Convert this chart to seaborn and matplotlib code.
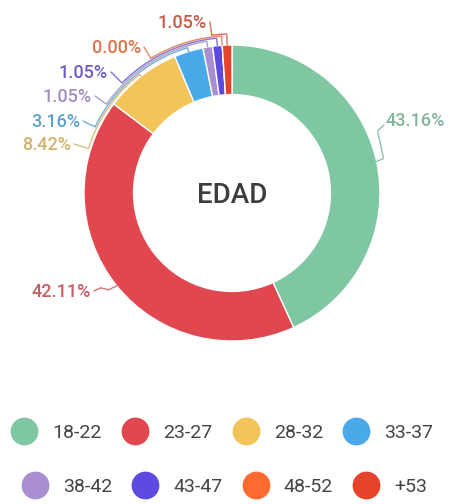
import numpy as np
import matplotlib.pyplot as plt
import seaborn as sns
from matplotlib.colors import to_rgb
from matplotlib.lines import Line2D

# age groups and their share (%)
ages = ['18-22', '23-27', '28-32', '33-37', '38-42', '43-47', '48-52', '+53']
percents = [43.16, 42.11, 8.42, 3.16, 1.05, 1.05, 0.00, 1.05]
colors = ['#7fc6a2', '#e0474f', '#f2c45a', '#4aa9e9',
          '#a98fd2', '#5d4be0', '#ff6a2f', '#e6432a']

sns.set_theme(style='white')
plt.rcParams['font.family'] = ['Roboto', 'DejaVu Sans']
palette = sns.color_palette(colors)

W, H = 457, 504
CX, CY, R = 232, 193, 148


def to_data(px, py):
    # pixel position -> data coords (pie radius = 1)
    return (px - CX) / R, (CY - py) / R


def muted(c, k=0.3):
    # slice colour pulled a bit toward grey, like the label text
    return tuple((1 - k) * a + k * 0.55 for a in to_rgb(c))


fig = plt.figure(figsize=(W / 100, H / 100), dpi=100)
ax = fig.add_axes([0, 0, 1, 1])

wedges, _ = ax.pie(percents, colors=palette, startangle=90, counterclock=False,
                   radius=1, wedgeprops=dict(width=0.335, edgecolor='white', linewidth=1))
ax.set_xlim(-CX / R, (W - CX) / R)
ax.set_ylim((CY - H) / R, CY / R)
ax.axis('off')

# mid angle of each slice, wrapped to (-pi, pi]
cum = np.cumsum([0] + percents) / 100
mids = np.deg2rad(90 - 360 * (cum[:-1] + cum[1:]) / 2)
mids = np.arctan2(np.sin(mids), np.cos(mids))

# label layout: (x px, baseline px, ha)
label_pos = [(386, 126, 'left'), (91, 297, 'right'), (71, 150, 'right'),
             (80, 127, 'right'), (92, 102, 'right'), (108, 78, 'right'),
             (141, 53, 'right'), (207, 28, 'right')]
arc_r = {2: 1.015, 3: 1.027, 4: 1.039, 5: 1.051, 6: 1.063, 7: 1.075}

for i, (p, (lx, ly, ha)) in enumerate(zip(percents, label_pos)):
    col = muted(colors[i])
    tx, ty = to_data(lx, ly)
    ax.text(tx, ty, f'{p:.2f}%', fontsize=13, color=col, fontweight=500,
            ha=ha, va='baseline')
    th = mids[i]
    ex, ey = np.cos(th), np.sin(th)
    if i == 0:
        epx, epy = CX + ex * R, CY - ey * R
        pts = [(epx, epy), (epx + 7, epy - 3), (epx + 1, 131), (lx - 2, ly - 1)]
        xs, ys = zip(*[to_data(a, b) for a, b in pts])
    elif i == 1:
        epx, epy = CX + ex * R, CY - ey * R
        pts = [(epx, epy), (epx - 8, epy + 4), (epx - 16, epy + 2), (lx + 3, ly - 6)]
        xs, ys = zip(*[to_data(a, b) for a, b in pts])
    else:
        axx, ayy = to_data(lx + 3, ly - 6)
        phi = np.arctan2(ayy, axx)
        r = arc_r[i]
        arc = np.linspace(phi, th, 40)
        xs = [axx] + list(r * np.cos(arc)) + [np.cos(th)]
        ys = [ayy] + list(r * np.sin(arc)) + [np.sin(th)]
    ax.plot(xs, ys, color=col, lw=1, alpha=0.85)

# centre title
ex_, ey_ = to_data(CX, 203)
ax.text(ex_, ey_, 'EDAD', fontsize=20, color='#3d3d3d', fontweight=500,
        ha='center', va='baseline')

# legend in two centred rows
handles = [Line2D([], [], marker='o', ls='', markersize=19,
                  markerfacecolor=c, markeredgecolor=c) for c in colors]
kw = dict(loc='center', bbox_transform=fig.transFigure, ncol=4, frameon=False,
          fontsize=14, handlelength=1.4, handletextpad=0.75, columnspacing=1.0,
          borderpad=0, labelcolor='#444444')
leg1 = ax.legend(handles[:4], ages[:4], bbox_to_anchor=(222 / W, 1 - 433 / H), **kw)
ax.add_artist(leg1)
ax.legend(handles[4:], ages[4:], bbox_to_anchor=(224 / W, 1 - 487 / H), **kw)

fig.savefig('out.png', dpi=100)
